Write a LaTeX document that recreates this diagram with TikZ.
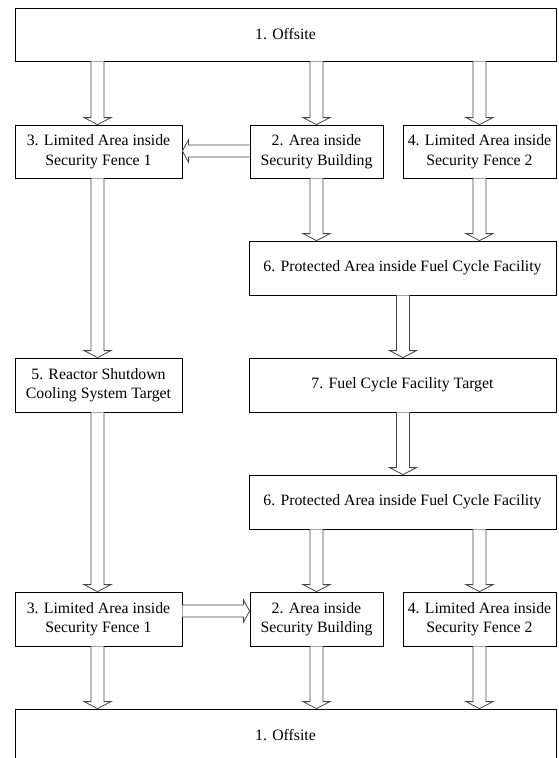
\documentclass[tikz,border=0pt]{standalone}
\usepackage{fontspec}
\setmainfont{Liberation Serif}
\usetikzlibrary{calc}
\definecolor{arrgray}{RGB}{70,70,70}
\tikzset{
  box/.style={draw=black, line width=0.8pt, fill=white, inner sep=0pt, align=center,
    font=\fontsize{15.8}{19.5}\selectfont, minimum height=53pt},
  arr/.style={draw=arrgray, line width=0.8pt, fill=white, line join=miter}
}
% vertical hollow arrow: x, from node, to node
\newcommand\vdarr[3]{%
  \coordinate (xx) at (#1,0);
  \path (#2.south -| xx) coordinate (s) (#3.north -| xx) coordinate (e);
  \draw[arr] ($(s)+(-6.5,0)$) -- ($(e)+(-6.5,7)$) -- ($(e)+(-13.5,7)$) -- (e)
     -- ($(e)+(13.5,7)$) -- ($(e)+(6.5,7)$) -- ($(s)+(6.5,0)$);}
% horizontal hollow arrow pointing left: y, from (right node), to (left node)
\newcommand\hlarr[3]{%
  \coordinate (yy) at (0,#1);
  \path (#2.west |- yy) coordinate (s) (#3.east |- yy) coordinate (e);
  \draw[arr] ($(s)+(0,6)$) -- ($(e)+(6,6)$) -- ($(e)+(6,11)$) -- (e)
     -- ($(e)+(6,-11)$) -- ($(e)+(6,-6)$) -- ($(s)+(0,-6)$);}
% horizontal hollow arrow pointing right: y, from (left node), to (right node)
\newcommand\hrarr[3]{%
  \coordinate (yy) at (0,#1);
  \path (#2.east |- yy) coordinate (s) (#3.west |- yy) coordinate (e);
  \draw[arr] ($(s)+(0,6)$) -- ($(e)+(-6,6)$) -- ($(e)+(-6,11)$) -- (e)
     -- ($(e)+(-6,-11)$) -- ($(e)+(-6,-6)$) -- ($(s)+(0,-6)$);}
\begin{document}
\begin{tikzpicture}[x=1pt,y=1pt]
\useasboundingbox (0,0) rectangle (558,-758);
\clip (0,0) rectangle (558,-758);
\node[box, minimum width=541pt] (o1) at (285.5,-34.5) {1. Offsite};
\node[box, minimum width=167pt] (b3a) at (98.5,-151.5) {3. Limited Area inside\\Security Fence 1};
\node[box, minimum width=133pt] (b2a) at (316.5,-151.5) {2. Area inside\\Security Building};
\node[box, minimum width=153pt] (b4a) at (479.5,-151.5) {4. Limited Area inside\\Security Fence 2};
\node[box, minimum width=307pt, minimum height=54pt] (b6a) at (402.5,-268) {6. Protected Area inside Fuel Cycle Facility};
\node[box, minimum width=167pt, minimum height=54pt] (b5) at (98.5,-385) {5. Reactor Shutdown\\Cooling System Target};
\node[box, minimum width=307pt, minimum height=54pt] (b7) at (402.5,-385) {7. Fuel Cycle Facility Target};
\node[box, minimum width=307pt, minimum height=54pt] (b6b) at (402.5,-502) {6. Protected Area inside Fuel Cycle Facility};
\node[box, minimum width=167pt, minimum height=54pt] (b3b) at (98.5,-619) {3. Limited Area inside\\Security Fence 1};
\node[box, minimum width=133pt, minimum height=54pt] (b2b) at (316.5,-619) {2. Area inside\\Security Building};
\node[box, minimum width=153pt, minimum height=54pt] (b4b) at (479.5,-619) {4. Limited Area inside\\Security Fence 2};
\node[box, minimum width=541pt] (o2) at (285.5,-735.5) {1. Offsite};

\vdarr{97.5}{o1}{b3a}
\vdarr{316.5}{o1}{b2a}
\vdarr{479.5}{o1}{b4a}
\hlarr{-151}{b2a}{b3a}
\vdarr{316.5}{b2a}{b6a}
\vdarr{479.5}{b4a}{b6a}
\vdarr{97.5}{b3a}{b5}
\vdarr{97.5}{b5}{b3b}
\vdarr{403}{b6a}{b7}
\vdarr{403}{b7}{b6b}
\vdarr{316.5}{b6b}{b2b}
\vdarr{479.5}{b6b}{b4b}
\hrarr{-611}{b3b}{b2b}
\vdarr{97.5}{b3b}{o2}
\vdarr{316.5}{b2b}{o2}
\vdarr{479.5}{b4b}{o2}
\end{tikzpicture}
\end{document}
